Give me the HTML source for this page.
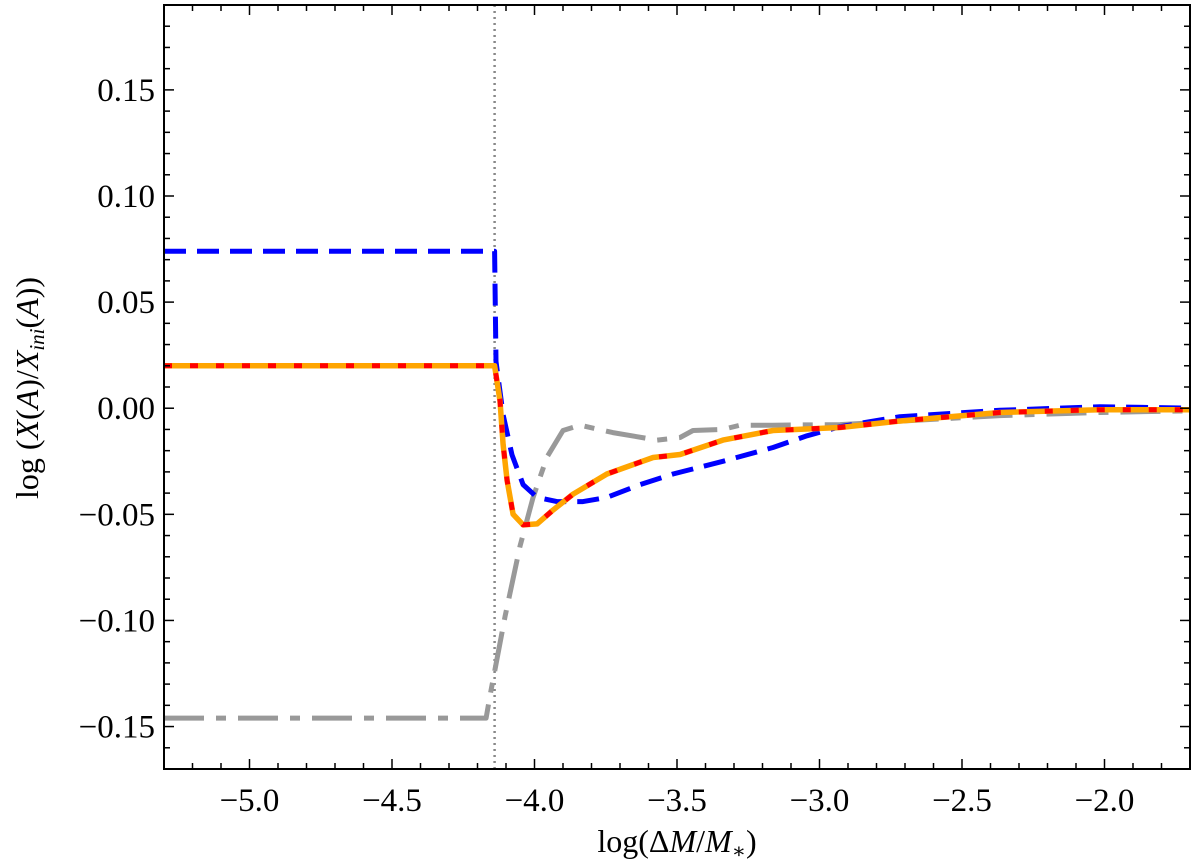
<!DOCTYPE html>
<html><head><meta charset="utf-8"><style>
body{margin:0;background:#fff}
svg text{font-family:"Liberation Serif","DejaVu Serif",serif;fill:#000}
</style></head><body>
<svg id="chart" width="1200" height="861" xmlns="http://www.w3.org/2000/svg">
<g id="series"></g>
<g id="axes"></g>
<text x="677" y="852" font-size="32" text-anchor="middle">log(Δ<tspan font-style="italic">M</tspan>/<tspan font-style="italic">M</tspan><tspan font-size="21" dy="6">∗</tspan><tspan dy="-6">)</tspan></text>
<text transform="translate(38,388) rotate(-90)" font-size="32" text-anchor="middle">log (<tspan font-style="italic">X</tspan>(<tspan font-style="italic">A</tspan>)/<tspan font-style="italic">X</tspan><tspan font-size="21" font-style="italic" dy="6">ini</tspan><tspan dy="-6">(</tspan><tspan font-style="italic">A</tspan>))</text>
</svg>
<script>
const xTicks=[-5.0,-4.5,-4.0,-3.5,-3.0,-2.5,-2.0];
const xTickLabels=["−5.0","−4.5","−4.0","−3.5","−3.0","−2.5","−2.0"];
const yTicks=[-0.15,-0.10,-0.05,0.00,0.05,0.10,0.15];
const yTickLabels=["−0.15","−0.10","−0.05","0.00","0.05","0.10","0.15"];
const markerX=-4.14;
const blueX=[-5.3,-4.14,-4.135,-4.11,-4.079,-4.04,-3.991,-3.921,-3.83,-3.746,-3.63,-3.514,-3.339,-3.163,-3.044,-2.928,-2.718,-2.367,-2.016,-1.70];
const blueY=[0.074,0.074,0.022,-0.003,-0.022,-0.036,-0.042,-0.044,-0.044,-0.042,-0.036,-0.031,-0.025,-0.0185,-0.013,-0.0087,-0.004,-0.001,0.0007,0.0];
const orangeX=[-5.3,-4.14,-4.121,-4.11,-4.096,-4.075,-4.04,-3.991,-3.935,-3.865,-3.746,-3.584,-3.489,-3.339,-3.163,-2.928,-2.718,-2.367,-2.016,-1.70];
const orangeY=[0.020,0.020,0.0035,-0.017,-0.034,-0.05,-0.055,-0.0545,-0.048,-0.0405,-0.031,-0.0232,-0.0218,-0.015,-0.0105,-0.0091,-0.006,-0.002,-0.0007,-0.0007];
const grayX=[-5.3,-4.17,-4.156,-4.103,-4.051,-4.005,-3.956,-3.9,-3.84,-3.725,-3.57,-3.489,-3.444,-3.339,-3.279,-3.163,-2.928,-2.367,-2.016,-1.70];
const grayY=[-0.146,-0.146,-0.1355,-0.098,-0.065,-0.042,-0.023,-0.0105,-0.008,-0.0115,-0.015,-0.0138,-0.0105,-0.010,-0.008,-0.008,-0.0077,-0.0035,-0.002,-0.0012];

const L=164,R=1190,T=5,B=769,xmin=-5.3,xmax=-1.7,ymin=-0.17,ymax=0.19;
const sx=v=>L+(v-xmin)/(xmax-xmin)*(R-L);
const sy=v=>B-(v-ymin)/(ymax-ymin)*(B-T);
const NS="http://www.w3.org/2000/svg";
const S=document.getElementById('series'),A=document.getElementById('axes');
function mk(p,t,at){const e=document.createElementNS(NS,t);for(const k in at)e.setAttribute(k,at[k]);p.appendChild(e);return e;}
function pts(xs,ys){return xs.map((x,i)=>sx(x).toFixed(1)+','+sy(ys[i]).toFixed(1)).join(' ');}

let e=mk(S,'line',{x1:sx(markerX),x2:sx(markerX),y1:T,y2:B,stroke:'#888','stroke-width':2.5,'stroke-dasharray':'2,4'});


e=mk(S,'polyline',{points:pts(grayX,grayY),fill:'none',stroke:'#999','stroke-width':5,'stroke-dasharray':'40,12,10,12','stroke-linejoin':'round'});


e=mk(S,'polyline',{points:pts(blueX,blueY),fill:'none',stroke:'#0000ff','stroke-width':5,'stroke-dasharray':'22,11','stroke-linejoin':'round'});


e=mk(S,'polyline',{points:pts(orangeX,orangeY),fill:'none',stroke:'#ffa500','stroke-width':5.5,'stroke-linejoin':'round'});


e=mk(S,'polyline',{points:pts(orangeX,orangeY),fill:'none',stroke:'#ff0000','stroke-width':5,'stroke-dasharray':'8,18','stroke-linejoin':'round'});



e=mk(A,'rect',{x:L,y:T,width:R-L,height:B-T,fill:'none',stroke:'#000','stroke-width':2});


for(let v=-5.3;v<=-1.69;v+=0.1){const x=sx(v);const maj=Math.abs(v*2-Math.round(v*2))<1e-6;const l=maj?10:6;
 mk(A,'line',{x1:x,x2:x,y1:B,y2:B-l,stroke:'#000','stroke-width':1.5});
 mk(A,'line',{x1:x,x2:x,y1:T,y2:T+l,stroke:'#000','stroke-width':1.5});}
for(let v=-0.17;v<=0.19;v+=0.01){const y=sy(v);const maj=Math.abs(v*20-Math.round(v*20))<1e-6;const l=maj?10:6;
 mk(A,'line',{x1:L,x2:L+l,y1:y,y2:y,stroke:'#000','stroke-width':1.5});
 mk(A,'line',{x1:R,x2:R-l,y1:y,y2:y,stroke:'#000','stroke-width':1.5});}
xTicks.forEach((v,i)=>{const t=mk(A,'text',{x:sx(v),y:B+42,'font-size':33,'text-anchor':'middle'});t.textContent=xTickLabels[i];
 
 });
yTicks.forEach((v,i)=>{const t=mk(A,'text',{x:L-9,y:sy(v)+11,'font-size':33,'text-anchor':'end'});t.textContent=yTickLabels[i];
 
 });
</script>
</body></html>
